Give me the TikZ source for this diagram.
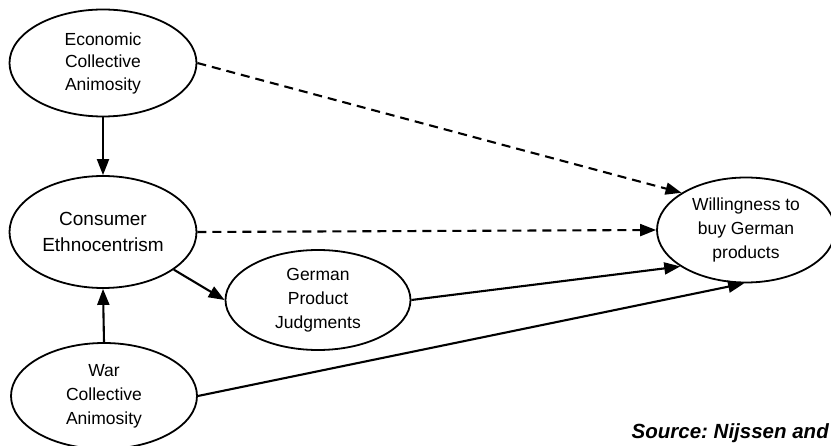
\documentclass[tikz,border=0pt]{standalone}
\usepackage{fontspec}
\setmainfont{Liberation Sans}
\usetikzlibrary{shapes.geometric,arrows.meta}

\begin{document}
\begin{tikzpicture}[x=1pt,y=-1pt,
        latent/.style={ellipse,draw,line width=1.8pt,align=center,inner sep=0pt},
        lbl/.style={font=\fontsize{17.5}{24}\selectfont},
        effect/.style={line width=2.1pt,-{Triangle[length=16pt,width=12pt]}},
        weakeffect/.style={effect,dash pattern=on 9pt off 6pt}]
        \useasboundingbox (0,0) rectangle (831,446);
        % \fill[white] (0,0) rectangle (831,446);
        \node[latent,font=\fontsize{17.5}{22.5}\selectfont,minimum width=187pt,minimum height=107pt] (eco) at (103,63) {Economic\\Collective\\Animosity};
        \node[latent,font=\fontsize{19}{26}\selectfont,minimum width=187pt,minimum height=112pt] (cons) at (103,232) {Consumer\\Ethnocentrism};
        \node[latent,lbl,minimum width=186pt,minimum height=106pt] (war) at (104,396) {War\\Collective\\Animosity};
        \node[latent,lbl,minimum width=185pt,minimum height=100pt] (germ) at (318,300) {German\\Product\\Judgments};
        \node[latent,lbl,minimum width=178pt,minimum height=105pt] (will) at (746,230) {Willingness to\\buy German\\products};
        \draw[effect] (eco.south) -- (cons.north);
        \draw[effect] (war.north) -- (cons.south);
        \draw[effect] (cons.-28) -- (germ.west);
        \draw[effect] (germ.east) -- (will.209);
        \draw[effect] (war.east) -- (will.268);
        \draw[weakeffect] (eco.east) -- (will.150);
        \draw[weakeffect] (cons.east) -- (will.west);
        \node[anchor=base east,inner sep=0pt,font=\fontsize{20.5}{26}\selectfont\bfseries\itshape] (src) at (829,439) {\frenchspacing Source: Nijssen and};
    \end{tikzpicture}
\end{document}
